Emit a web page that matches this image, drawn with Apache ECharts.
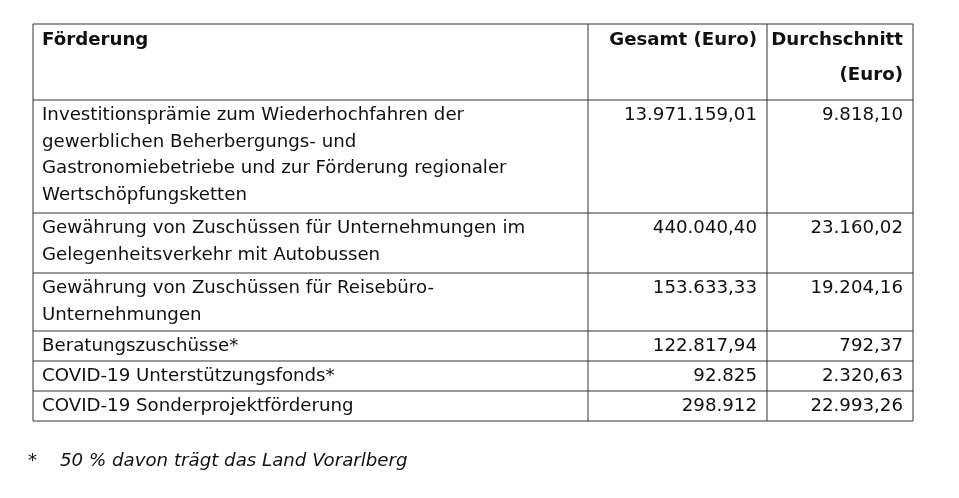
<!DOCTYPE html>
<html><head><meta charset="utf-8">
<script src="https://cdn.jsdelivr.net/npm/echarts@6/dist/echarts.min.js"></script>
<style>html,body{margin:0;padding:0;background:#fff}#c{width:959px;height:498px}</style>
</head><body><div id="c"></div>
<script>
const headers = [["Förderung"], ["Gesamt (Euro)"], ["Durchschnitt", "(Euro)"]];
const categories = [
  ["Investitionsprämie zum Wiederhochfahren der", "gewerblichen Beherbergungs- und", "Gastronomiebetriebe und zur Förderung regionaler", "Wertschöpfungsketten"],
  ["Gewährung von Zuschüssen für Unternehmungen im", "Gelegenheitsverkehr mit Autobussen"],
  ["Gewährung von Zuschüssen für Reisebüro-", "Unternehmungen"],
  ["Beratungszuschüsse*"],
  ["COVID-19 Unterstützungsfonds*"],
  ["COVID-19 Sonderprojektförderung"]
];
const totals = ["13.971.159,01", "440.040,40", "153.633,33", "122.817,94", "92.825", "298.912"];
const averages = ["9.818,10", "23.160,02", "19.204,16", "792,37", "2.320,63", "22.993,26"];
const footnoteMark = "*";
const footnote = "50 % davon trägt das Land Vorarlberg";

// layout
const X0 = 33, X1 = 588, X2 = 767, X3 = 913;
const rowBounds = [24, 100, 213, 273, 331, 361, 391, 421];
const LH = 26.6, FONT = '18.2px "DejaVu Sans", sans-serif';
const els = [];
const line = (x1, y1, x2, y2) => els.push({type:'line', shape:{x1,y1,x2,y2}, style:{stroke:'#333', lineWidth:1}});
rowBounds.forEach(y => line(X0, y, X3, y));
[X0, X1, X2, X3].forEach(x => line(x, rowBounds[0], x, rowBounds[rowBounds.length-1]));
const txt = (s, x, y, align, bold, italic) => els.push({type:'text', x, y, style:{text:s, font:(italic?'italic ':'')+(bold?'bold ':'')+FONT, fill:'#111', align, verticalAlign:'middle'}});
const firstY = r => rowBounds[r] + 16.5;
headers[0].forEach((s,i)=>txt(s, 42, firstY(0)+i*35, 'left', true));
headers[1].forEach((s,i)=>txt(s, 757, firstY(0)+i*35, 'right', true));
headers[2].forEach((s,i)=>txt(s, 903, firstY(0)+i*35, 'right', true));
categories.forEach((lines, r) => {
  const y0 = firstY(r+1) - 1;
  lines.forEach((s,i)=>txt(s, 42, y0 + i*LH, 'left'));
  txt(totals[r], 757, y0, 'right');
  txt(averages[r], 903, y0, 'right');
});
txt(footnoteMark, 28, 461, 'left', false, true);
txt(footnote, 60, 461, 'left', false, true);

const chart = echarts.init(document.getElementById('c'));
chart.setOption({animation:false, backgroundColor:'#fff', graphic:{elements:els}});
</script></body></html>
